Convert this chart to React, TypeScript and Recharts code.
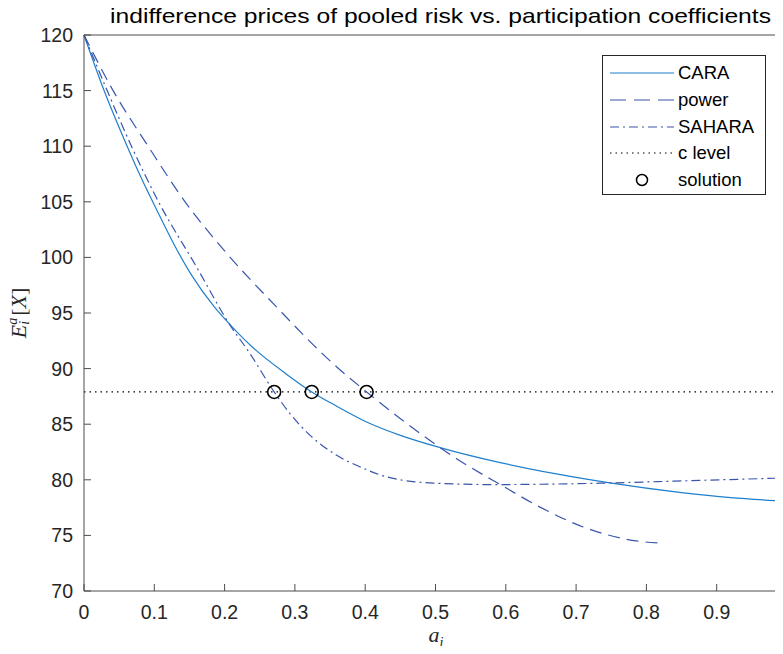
import React from 'react';
import {ComposedChart, Line, Scatter, XAxis, YAxis} from 'recharts';

// curve readings (a_i, price)
const caraX = [0, 0.028, 0.06, 0.081, 0.104, 0.127, 0.153, 0.186, 0.21, 0.241, 0.288, 0.324, 0.36, 0.402, 0.45, 0.5065, 0.592, 0.67, 0.748, 0.85, 0.92, 1.0];
const caraY = [120, 115.1, 110.2, 107.2, 104.2, 101.3, 98.4, 95.5, 93.8, 91.85, 89.5, 87.9, 86.6, 85.2, 84.0, 82.9, 81.55, 80.55, 79.72, 78.85, 78.4, 78.07];

const powerX = [0, 0.0414, 0.0912, 0.1438, 0.203, 0.269, 0.3595, 0.402, 0.5065, 0.53, 0.594, 0.65, 0.71, 0.786, 0.822];
const powerY = [120, 115, 110, 105, 100.36, 95.86, 90.15, 87.9, 82.9, 81.9, 79.5, 77.5, 75.76, 74.5, 74.3];

const saharaX = [0, 0.033, 0.0675, 0.106, 0.16, 0.2078, 0.236, 0.2705, 0.293, 0.3216, 0.3595, 0.3927, 0.4307, 0.497, 0.582, 0.65, 0.752, 0.85, 1.0];
const saharaY = [120, 115, 110, 105, 99.15, 93.9, 91.36, 87.9, 85.96, 84.0, 82.2, 81.16, 80.26, 79.7, 79.57, 79.6, 79.72, 79.9, 80.17];

const cLevel = 87.9;
const solutionX = [0.2705, 0.324, 0.402];

const xTicks = [0, 0.1, 0.2, 0.3, 0.4, 0.5, 0.6, 0.7, 0.8, 0.9, 1];
const yTicks = [70, 75, 80, 85, 90, 95, 100, 105, 110, 115, 120];

const toPts = (xs: number[], ys: number[]) => xs.map((x, i) => ({x, y: ys[i]}));

const cara = toPts(caraX, caraY);
const power = toPts(powerX, powerY);
const sahara = toPts(saharaX, saharaY);
const cline = [{x: 0, y: cLevel}, {x: 1, y: cLevel}];
const solutions = solutionX.map(x => ({x, y: cLevel}));

const FONT = '"Liberation Sans", Arial, Helvetica, sans-serif';
const SERIF = '"Liberation Serif", "DejaVu Serif", serif';
const AXIS = '#4d4d4d';
const TXT = '#262626';
const CARA_C = '#1f7fcb';
const DARK_C = '#3a55ad';
const TL = 7;

const BottomTick = (p: any) => (
    <g>
        <line x1={p.x} y1={p.y} x2={p.x} y2={p.y - TL} stroke={AXIS}/>
        <text x={p.x} y={p.y + 28} textAnchor="middle" fontSize={19.5} fontFamily={FONT} fill={TXT}>
            {String(p.payload.value)}
        </text>
    </g>
);
const TopTick = (p: any) => <line x1={p.x} y1={p.y} x2={p.x} y2={p.y + TL} stroke={AXIS}/>;
const LeftTick = (p: any) => (
    <g>
        <line x1={p.x} y1={p.y} x2={p.x + TL} y2={p.y} stroke={AXIS}/>
        <text x={p.x - 11} y={p.y + 7} textAnchor="end" fontSize={19.5} fontFamily={FONT} fill={TXT}>
            {String(p.payload.value)}
        </text>
    </g>
);
const RightTick = (p: any) => <line x1={p.x} y1={p.y} x2={p.x - TL} y2={p.y} stroke={AXIS}/>;

const legendItems = [
    {name: 'CARA', color: CARA_C, dash: undefined},
    {name: 'power', color: DARK_C, dash: '16 8'},
    {name: 'SAHARA', color: DARK_C, dash: '9 4 2 4'},
    {name: 'c level', color: '#000', dash: '1.5 4'},
    {name: 'solution', color: '#000', dash: 'circle'},
];

const LegendBox = () => (
    <div style={{position: 'absolute', left: 602, top: 55, width: 164, height: 140, border: '1px solid #262626',
        background: '#fff', boxSizing: 'border-box', paddingTop: 4}}>
        {legendItems.map(it => (
            <div key={it.name} style={{height: 26.7, display: 'flex', alignItems: 'center'}}>
                <svg width={75} height={20} style={{flex: 'none'}}>
                    {it.dash === 'circle'
                        ? <circle cx={39} cy={10} r={5.5} fill="none" stroke="#000" strokeWidth={1.5}/>
                        : <line x1={7} y1={10} x2={71} y2={10} stroke={it.color} strokeWidth={1.2} strokeDasharray={it.dash}/>}
                </svg>
                <span style={{fontFamily: FONT, fontSize: 18.5, color: '#000', lineHeight: '20px'}}>{it.name}</span>
            </div>
        ))}
    </div>
);

export default function App() {
    return (
        <div style={{margin: -8, width: 783, height: 654, overflow: 'hidden', position: 'relative', background: '#fff'}}>
            <ComposedChart width={800} height={654} margin={{top: 34, left: 83, right: 12, bottom: 62}}>
                <XAxis xAxisId="b" dataKey="x" type="number" domain={[0, 1]} ticks={xTicks} height={1}
                       tickSize={0} tickMargin={0} tick={BottomTick} stroke={AXIS} interval={0}/>
                <XAxis xAxisId="t" orientation="top" dataKey="x" type="number" domain={[0, 1]} ticks={xTicks} height={1}
                       tickSize={0} tickMargin={0} tick={TopTick} stroke={AXIS} interval={0}/>
                <YAxis yAxisId="l" type="number" domain={[70, 120]} ticks={yTicks} width={1}
                       tickSize={0} tickMargin={0} tick={LeftTick} stroke={AXIS} interval={0}/>
                <YAxis yAxisId="r" orientation="right" type="number" domain={[70, 120]} ticks={yTicks} width={1}
                       tickSize={0} tickMargin={0} tick={RightTick} stroke={AXIS} interval={0}/>
                <Line xAxisId="b" yAxisId="l" data={cline} dataKey="y" stroke="#000" strokeWidth={1.2}
                      strokeDasharray="1.5 4" dot={false} isAnimationActive={false} name="c level"/>
                <Line xAxisId="b" yAxisId="l" data={cara} dataKey="y" type="monotone" stroke={CARA_C} strokeWidth={1.2}
                      dot={false} isAnimationActive={false} name="CARA"/>
                <Line xAxisId="b" yAxisId="l" data={power} dataKey="y" type="monotone" stroke={DARK_C} strokeWidth={1.2}
                      strokeDasharray="12 7" dot={false} isAnimationActive={false} name="power"/>
                <Line xAxisId="b" yAxisId="l" data={sahara} dataKey="y" type="monotone" stroke={DARK_C} strokeWidth={1.2}
                      strokeDasharray="9 4 2 4" dot={false} isAnimationActive={false} name="SAHARA"/>
                <Scatter xAxisId="b" yAxisId="l" data={solutions} dataKey="y" isAnimationActive={false} name="solution"
                         shape={(p: any) => <circle cx={p.cx} cy={p.cy} r={6.5} fill="none" stroke="#000" strokeWidth={1.6}/>}/>
            </ComposedChart>
            <svg width={783} height={34} style={{position: 'absolute', left: 0, top: 0}}>
                <text x={110} y={23} fontSize={21} fontFamily={FONT} fill="#000" textLength={661} lengthAdjust="spacingAndGlyphs">
                    indifference prices of pooled risk vs. participation coefficients
                </text>
            </svg>
            <LegendBox/>
            <div style={{position: 'absolute', left: 19, top: 313, transform: 'translate(-50%, -50%) rotate(-90deg)',
                whiteSpace: 'nowrap', fontFamily: SERIF, fontSize: 22, color: TXT,
                display: 'flex', alignItems: 'center'}}>
                <i>E</i>
                <span style={{display: 'inline-flex', flexDirection: 'column', fontSize: 14, lineHeight: '12px', fontStyle: 'italic', marginRight: 2}}>
                    <span>a</span><span>i</span>
                </span>
                <span>[</span><i>X</i><span>]</span>
            </div>
            <div style={{position: 'absolute', left: 436, top: 635, transform: 'translate(-50%, -50%)', whiteSpace: 'nowrap',
                fontFamily: SERIF, fontSize: 22, color: TXT, lineHeight: '24px'}}>
                <i>a</i><sub style={{fontSize: 14, fontStyle: 'italic', lineHeight: 0}}>i</sub>
            </div>
        </div>
    );
}
